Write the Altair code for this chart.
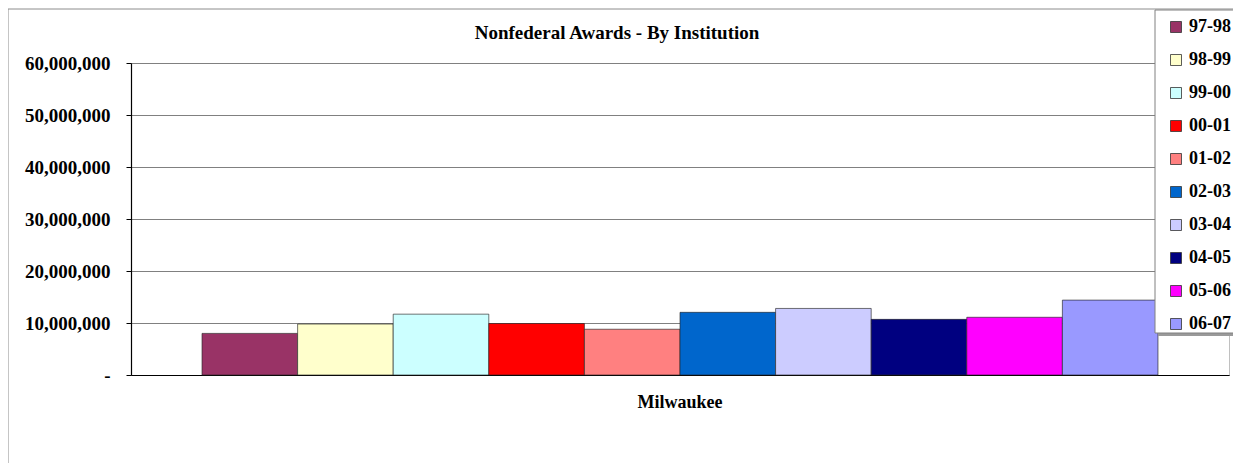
import altair as alt
import pandas as pd

years = ["97-98", "98-99", "99-00", "00-01", "01-02", "02-03", "03-04", "04-05", "05-06", "06-07"]
values = [8000000, 9800000, 11700000, 9900000, 8800000, 12050000, 12800000, 10700000, 11100000, 14400000]
colors = ["#993366", "#FFFFCC", "#CCFFFF", "#FF0000", "#FF8080", "#0066CC", "#CCCCFF", "#000080", "#FF00FF", "#9999FF"]
institution = "Milwaukee"
title_text = "Nonfederal Awards - By Institution"

df = pd.DataFrame({"Institution": [institution] * len(years), "Year": years, "Value": values})

FONT = "Liberation Serif"
W, H = 1098, 312

one = alt.Data(values=[{}])

frame = alt.Chart(one).mark_rect(
    fill="transparent", stroke="#8c8c8c", strokeWidth=1
).encode(x=alt.value(-123), x2=alt.value(1300), y=alt.value(-54), y2=alt.value(520))

shadow = alt.Chart(one).mark_rect(fill="#9a9a9a").encode(
    x=alt.value(1024 + 3), x2=alt.value(1300), y=alt.value(-53 + 3), y2=alt.value(270 + 3)
)
legend_box = alt.Chart(one).mark_rect(fill="white", stroke="#808080", strokeWidth=1).encode(
    x=alt.value(1024), x2=alt.value(1300), y=alt.value(-53), y2=alt.value(270)
)

title = alt.Chart(one).mark_text(
    text=title_text, font=FONT, fontSize=19, fontWeight="bold", color="black",
    align="center", baseline="middle",
).encode(x=alt.value(617 - 131), y=alt.value(33 - 63))

bars = alt.Chart(df).mark_bar(stroke="#222222", strokeWidth=0.8, strokeOpacity=0.8).encode(
    x=alt.X(
        "Institution:N",
        scale=alt.Scale(paddingOuter=0.0743, paddingInner=0),
        axis=alt.Axis(
            title=None, labelAngle=0, ticks=False, domainColor="black", domainWidth=1.2,
            labelFont=FONT, labelFontSize=18, labelFontWeight="bold", labelColor="black",
            labelPadding=18,
        ),
    ),
    xOffset=alt.XOffset("Year:N", sort=years, scale=alt.Scale(paddingInner=0, paddingOuter=0)),
    y=alt.Y(
        "Value:Q",
        scale=alt.Scale(domain=[0, 60000000], nice=False),
        axis=alt.Axis(
            title=None, values=[0, 10000000, 20000000, 30000000, 40000000, 50000000, 60000000],
            labelExpr="datum.value == 0 ? '-' : format(datum.value, ',')",
            labelFont=FONT, labelFontSize=19, labelFontWeight="bold", labelColor="black",
            labelPadding=16, tickSize=5, tickColor="black", domainColor="black", domainWidth=1.2,
            gridColor="#808080", gridWidth=1,
        ),
    ),
    color=alt.Color(
        "Year:N",
        sort=years,
        scale=alt.Scale(domain=years, range=colors),
        legend=alt.Legend(
            title=None, orient="none", legendX=1024, legendY=-53,
            padding=8,
            labelFont=FONT, labelFontSize=18, labelFontWeight="bold", labelColor="black",
            symbolType="square", symbolSize=121, symbolStrokeColor="#333333", symbolStrokeWidth=0.8,
            rowPadding=15, labelOffset=4, symbolOffset=4,
        ),
    ),
)

chart = alt.layer(frame, title, bars, shadow, legend_box).properties(
    width=W, height=H,
    autosize=alt.AutoSizeParams(type="none"),
    padding={"left": 123, "top": 55, "right": 4, "bottom": 88},
).configure_view(stroke="#c0c0c0", strokeWidth=1)

chart.save("out.html", embed_options={"renderer": "svg", "actions": False})
